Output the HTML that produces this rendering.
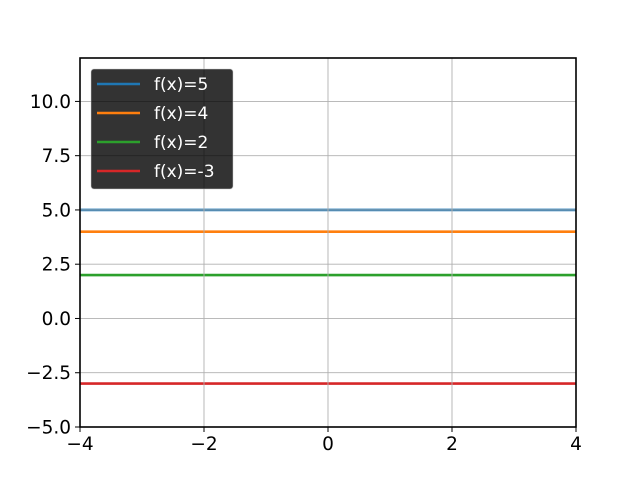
<!DOCTYPE html>
<html><head><meta charset="utf-8"><style>
body{margin:0;background:#fff}
svg{display:block;font-family:"DejaVu Sans","Liberation Sans",sans-serif}
</style></head><body>
<svg id="chart" width="640" height="480" viewBox="0 0 640 480" xmlns="http://www.w3.org/2000/svg">
<rect width="640" height="480" fill="#fff"/>
<g id="lines"></g>
<g id="grid"></g>
<g id="legend"></g>
<rect x="80" y="58" width="496" height="369" fill="none" stroke="#000" stroke-width="1.6"/>
<g id="ticks"></g>
</svg>
<script>
const labels = ["f(x)=5","f(x)=4","f(x)=2","f(x)=-3"];
const values = [5,4,2,-3];
const colors = ["#1f77b4","#ff7f0e","#2ca02c","#d62728"];
const xTicks = [-4,-2,0,2,4];
const xTickLabels = ["\u22124","\u22122","0","2","4"];
const yTicks = [-5,-2.5,0,2.5,5,7.5,10];
const yTickLabels = ["\u22125.0","\u22122.5","0.0","2.5","5.0","7.5","10.0"];
const xMin=-4,xMax=4,yMin=-5,yMax=12;
const L=80,R=576,T=58,B=427;
const sx=v=>L+(v-xMin)/(xMax-xMin)*(R-L);
const sy=v=>B-(v-yMin)/(yMax-yMin)*(B-T);
const NS="http://www.w3.org/2000/svg";
function mk(tag,attrs,parent){const e=document.createElementNS(NS,tag);for(const k in attrs)e.setAttribute(k,attrs[k]);parent.appendChild(e);return e;}
const gl=document.getElementById('lines'),gg=document.getElementById('grid'),gt=document.getElementById('ticks'),lg=document.getElementById('legend');
values.forEach((v,i)=>{
  const l=mk('line',{x1:sx(xMin),x2:sx(xMax),y1:sy(v),y2:sy(v),stroke:colors[i],'stroke-width':2.6},gl);
  
  
});
xTicks.forEach((t,i)=>{
  const x=sx(t);
  const g=mk('line',{x1:x,x2:x,y1:T,y2:B,stroke:'#b0b0b0','stroke-width':0.9},gg);
  
  
  const k=mk('line',{x1:x,x2:x,y1:B,y2:B+5,stroke:'#000','stroke-width':1},gt);
  
  
  const tx=mk('text',{x:x,y:B+23,'text-anchor':'middle','font-size':18.5,fill:'#000'},gt);
  tx.textContent=xTickLabels[i];
  
  
});
yTicks.forEach((t,i)=>{
  const y=sy(t);
  const g=mk('line',{x1:L,x2:R,y1:y,y2:y,stroke:'#b0b0b0','stroke-width':0.9},gg);
  
  
  const k=mk('line',{x1:L-5,x2:L,y1:y,y2:y,stroke:'#000','stroke-width':1},gt);
  
  
  const tx=mk('text',{x:L-9,y:y+6.5,'text-anchor':'end','font-size':18.5,fill:'#000'},gt);
  tx.textContent=yTickLabels[i];
  
  
});
const box=mk('rect',{x:91,y:69,width:142,height:120,rx:3,fill:'#000','fill-opacity':0.8,stroke:'#ccc','stroke-opacity':0.5},lg);


labels.forEach((s,i)=>{
  const y=84+i*29;
  const h=mk('line',{x1:97,x2:140,y1:y,y2:y,stroke:colors[i],'stroke-width':2.6},lg);
  
  
  const tx=mk('text',{x:154,y:y+6,'font-size':17,fill:'#fff'},lg);
  tx.textContent=s;
  
  
});
</script>
</body></html>
